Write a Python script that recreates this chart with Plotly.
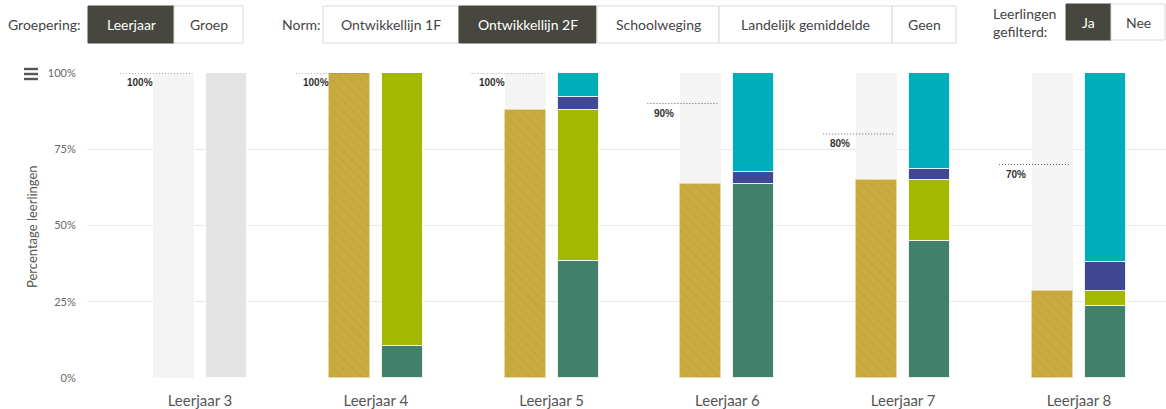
import plotly.graph_objects as go

# ---------------- data ----------------
categories = ["Leerjaar 3", "Leerjaar 4", "Leerjaar 5", "Leerjaar 6", "Leerjaar 7", "Leerjaar 8"]
norm = [100, 100, 100, 90, 80, 70]                 # norm (%) per leerjaar
norm_labels = ["100%", "100%", "100%", "90%", "80%", "70%"]
behaald = [0, 100, 88, 63.5, 65, 28.5]              # left bar (hatched gold)
niveau_a = [0, 10.5, 38.5, 63.5, 45, 23.5]          # dark green
niveau_b = [0, 89.5, 49.5, 0, 20, 5]                # yellow-green
niveau_c = [0, 0, 4, 4, 3.5, 9.5]                   # indigo
niveau_d = [0, 0, 8, 32.5, 31.5, 62]                # teal
geen_data = [100, 0, 0, 0, 0, 0]                    # grey (no data)
y_ticks = [0, 25, 50, 75, 100]
y_tick_labels = ["0%", "25%", "50%", "75%", "100%"]

FONT = "Lato"
# ---------------- geometry ----------------
L, R, T, B = 87, 1166, 73, 378
W, H = R - L, B - T
def px(x):
    return (x - L) / W
def py(y):
    return (B - y) / H

UNIT = 175.8
BW = 41 / UNIT
OFF_L = -47 / UNIT
OFF_R = 6 / UNIT
xs = list(range(len(categories)))

def nz(vals):
    return [v if v else None for v in vals]

fig = go.Figure()

# left background bars
fig.add_trace(go.Bar(x=xs, y=[100] * len(xs), width=BW, offset=OFF_L,
                     marker=dict(color="#f4f4f4", line=dict(width=0)), hoverinfo="skip"))
# left hatched gold
fig.add_trace(go.Bar(x=xs, y=nz(behaald), width=BW, offset=OFF_L,
                     marker=dict(color="#c9aa3e", line=dict(color="#e6d9a6", width=1),
                                 pattern=dict(shape="\\", fgcolor="#bea13a", size=7,
                                              solidity=0.3, fillmode="overlay")),
                     hoverinfo="skip"))

# right stacked bars
stack = [(geen_data, "#e4e4e4"), (niveau_a, "#41806a"), (niveau_b, "#a3b800"),
         (niveau_c, "#404896"), (niveau_d, "#00aeb9")]
base = [0] * len(xs)
for vals, col in stack:
    fig.add_trace(go.Bar(x=xs, y=nz(vals), base=list(base), width=BW, offset=OFF_R,
                         marker=dict(color=col, line=dict(color="rgba(255,255,255,0.8)", width=1)),
                         hoverinfo="skip"))
    base = [b + v for b, v in zip(base, vals)]

# norm dotted lines + labels
for i, (n, lab) in enumerate(zip(norm, norm_labels)):
    fig.add_shape(type="line", xref="x", yref="y", x0=i - 80 / UNIT, x1=i - 10 / UNIT,
                  y0=n, y1=n, line=dict(color="#666", width=1, dash="1px,2px"))
    fig.add_annotation(x=i - 75 / UNIT, y=n, xref="x", yref="y", text="<b>" + lab + "</b>",
                       showarrow=False, xanchor="left", yanchor="top", yshift=-2,
                       font=dict(family="Liberation Sans", size=10, color="#333"))

# ---------------- top controls ----------------
def button(x0, x1, y0, y1, label, active):
    fig.add_shape(type="rect", xref="paper", yref="paper", x0=px(x0), x1=px(x1), y0=py(y1), y1=py(y0),
                  fillcolor="#474740" if active else "#ffffff",
                  line=dict(color="#474740" if active else "#d9d9d9", width=1), layer="below")
    fig.add_annotation(xref="paper", yref="paper", x=px((x0 + x1) / 2), y=py((y0 + y1) / 2),
                       text=label, showarrow=False, xanchor="center", yanchor="middle",
                       font=dict(family=FONT, size=14, color="#ffffff" if active else "#444"))

def label(x, y, text, anchor="left"):
    fig.add_annotation(xref="paper", yref="paper", x=px(x), y=py(y), text=text, showarrow=False,
                       xanchor=anchor, yanchor="middle", align="left",
                       font=dict(family=FONT, size=14, color="#444"))

label(6, 24, "Groepering:")
button(88, 174, 6, 43, "Leerjaar", True)
button(174, 243, 6, 43, "Groep", False)
label(280, 24, "Norm:")
button(323, 459, 6, 43, "Ontwikkellijn 1F", False)
button(459, 596, 6, 43, "Ontwikkellijn 2F", True)
button(597, 719, 6, 43, "Schoolweging", False)
button(719, 892, 6, 43, "Landelijk gemiddelde", False)
button(892, 956, 6, 43, "Geen", False)
label(991, 22, "Leerlingen<br>gefilterd:")
button(1066, 1111, 4, 40, "Ja", True)
button(1111, 1165, 4, 40, "Nee", False)

# hamburger icon
for yy in (69, 74, 79):
    fig.add_shape(type="rect", xref="paper", yref="paper", x0=px(24), x1=px(38),
                  y0=py(yy + 1.2), y1=py(yy - 1.2), fillcolor="#555", line=dict(width=0))

# y-axis title
fig.add_annotation(xref="paper", yref="paper", x=px(32), y=py(227), text="Percentage leerlingen",
                   textangle=-90, showarrow=False, xanchor="center", yanchor="middle",
                   font=dict(family=FONT, size=13, color="#555"))

fig.update_layout(
    width=1166, height=409, margin=dict(l=L, r=1166 - R, t=T, b=409 - B),
    barmode="overlay", showlegend=False, bargap=0,
    plot_bgcolor="#ffffff", paper_bgcolor="#ffffff",
    xaxis=dict(range=[-113 / UNIT, 5 + 87 / UNIT], tickvals=xs, ticktext=categories,
               showgrid=False, zeroline=False, showline=False, ticks="outside", ticklen=9,
               tickcolor="rgba(0,0,0,0)", tickfont=dict(family=FONT, size=15, color="#555"),
               fixedrange=True),
    yaxis=dict(range=[0, 100], tickvals=y_ticks, ticktext=y_tick_labels, showgrid=True,
               gridcolor="#e9e9e9", gridwidth=1, zeroline=False, showline=False,
               ticks="outside", ticklen=8, tickcolor="rgba(0,0,0,0)",
               tickfont=dict(family=FONT, size=11, color="#666"), fixedrange=True),
)

fig.write_html("out.html", config={"displayModeBar": False},
               post_script="document.body.style.margin='0';document.body.style.overflow='hidden';")
